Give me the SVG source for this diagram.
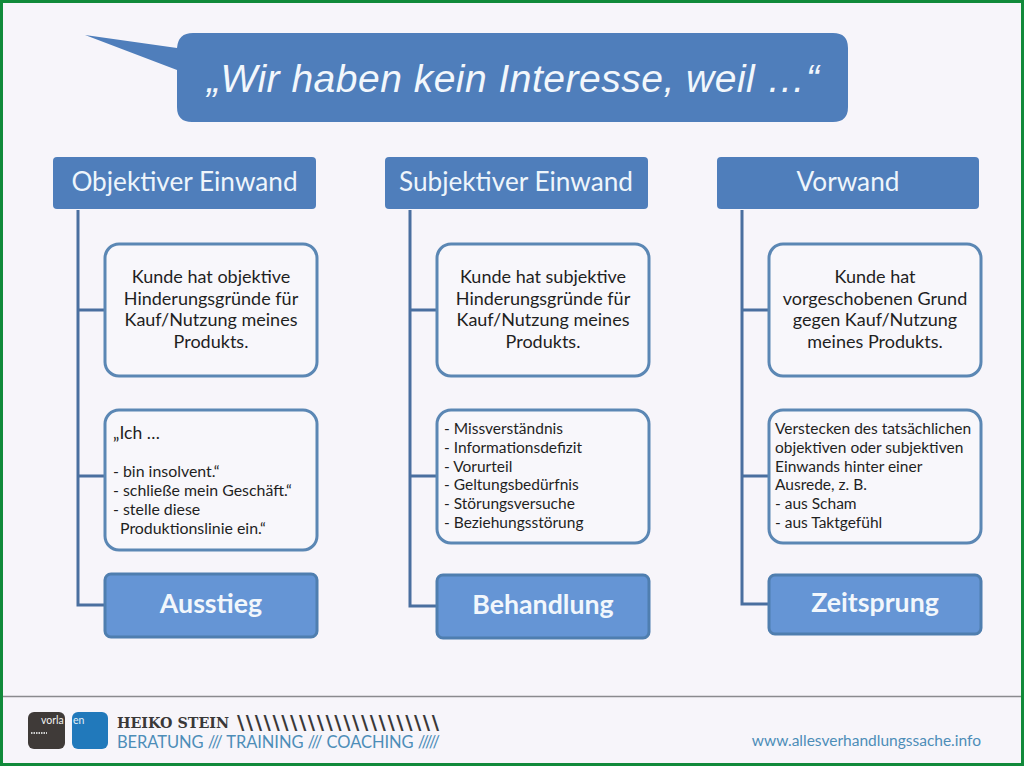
<svg xmlns="http://www.w3.org/2000/svg" width="1024" height="766" viewBox="0 0 1024 766">
<style>
text{font-family:Lato,"Open Sans","DejaVu Sans",sans-serif}
.hd rect{fill:#4f7ebb}
.hd text{fill:#eef5fb;font-size:26.200px;text-anchor:middle}
.bx rect{fill:#f8f7fb;stroke:#5b87b4;stroke-width:3}
.bx text{fill:#1f1f1f;font-size:18px;text-anchor:middle}
.ls rect{fill:#f8f7fb;stroke:#5b87b4;stroke-width:3}
.ls text{fill:#1f1f1f;font-size:15.500px}
.ac rect{fill:#6595d5;stroke:#4f7eaf;stroke-width:3}
.ac text{fill:#f2f7fc;font-size:26.700px;font-weight:700;text-anchor:middle}
#connectors path{fill:none;stroke:#4a6f9f;stroke-width:3}
</style>
<rect width="1024" height="766" fill="#f7f5fa"/>
<rect x="1.5" y="1.5" width="1021" height="763" fill="none" stroke="#118a3a" stroke-width="3"/>
<g id="connectors">
<path d="M78 210V605H104M78 310H104M78 476H104"/>
<path d="M410 210V606H436M410 310H436M410 476H436"/>
<path d="M742 210V604H768M742 310H768M742 476H768"/>
</g>
<g id="speech">
<path d="M85 35L177 48Q178 33 193 33H833Q848 33 848 48V107Q848 122 833 122H192Q177 122 177 107V70Z" fill="#4f7ebb"/>
<text x="513" y="92" font-size="39" font-style="italic" fill="#f2f7fc" text-anchor="middle" style="font-family:'Liberation Sans',Arial,sans-serif" textLength="612" lengthAdjust="spacing">„Wir haben kein Interesse, weil …“</text>
</g>
<g id="h1" class="hd"><rect x="53" y="157" width="263" height="52" rx="4"/><text x="184.500" y="191">Objektiver Einwand</text></g>
<g id="h2" class="hd"><rect x="385" y="157" width="263" height="52" rx="4"/><text x="516" y="191">Subjektiver Einwand</text></g>
<g id="h3" class="hd"><rect x="717" y="157" width="262" height="52" rx="4"/><text x="848" y="191">Vorwand</text></g>
<g id="b1" class="bx"><rect x="105" y="244" width="212" height="132" rx="14"/><text x="211" y="283">Kunde hat objektive</text><text x="211" y="305">Hinderungsgründe für</text><text x="211" y="326">Kauf/Nutzung meines</text><text x="211" y="348">Produkts.</text></g>
<g id="b2" class="bx"><rect x="437" y="244" width="212" height="132" rx="14"/><text x="543" y="283">Kunde hat subjektive</text><text x="543" y="305">Hinderungsgründe für</text><text x="543" y="326">Kauf/Nutzung meines</text><text x="543" y="348">Produkts.</text></g>
<g id="b3" class="bx"><rect x="769" y="244" width="212" height="132" rx="14"/><text x="875" y="283">Kunde hat</text><text x="875" y="305">vorgeschobenen Grund</text><text x="875" y="326">gegen Kauf/Nutzung</text><text x="875" y="348">meines Produkts.</text></g>
<g id="l1" class="ls"><rect x="105" y="410" width="212" height="140" rx="14"/><text x="113" y="439" style="font-size:17.500px">„Ich …</text><text x="113" y="477" style="font-size:15.900px">- bin insolvent.“</text><text x="113" y="496" style="font-size:15.900px">- schließe mein Geschäft.“</text><text x="113" y="515" style="font-size:15.900px">- stelle diese</text><text x="120" y="534" style="font-size:15.900px">Produktionslinie ein.“</text></g>
<g id="l2" class="ls"><rect x="437" y="410" width="212" height="133" rx="14"/><text x="444" y="434">- Missverständnis</text><text x="444" y="453">- Informationsdefizit</text><text x="444" y="472">- Vorurteil</text><text x="444" y="490">- Geltungsbedürfnis</text><text x="444" y="509">- Störungsversuche</text><text x="444" y="528">- Beziehungsstörung</text></g>
<g id="l3" class="ls"><rect x="769" y="410" width="212" height="133" rx="14"/><text x="775" y="434">Verstecken des tatsächlichen</text><text x="775" y="453">objektiven oder subjektiven</text><text x="775" y="472">Einwands hinter einer</text><text x="775" y="490">Ausrede, z. B.</text><text x="775" y="509">- aus Scham</text><text x="775" y="528">- aus Taktgefühl</text></g>
<g id="a1" class="ac"><rect x="105" y="574" width="212" height="63" rx="6"/><text x="211" y="613">Ausstieg</text></g>
<g id="a2" class="ac"><rect x="437" y="575" width="212" height="63" rx="6"/><text x="543" y="614">Behandlung</text></g>
<g id="a3" class="ac"><rect x="769" y="575" width="212" height="59" rx="6"/><text x="875" y="612">Zeitsprung</text></g>
<g id="footer">
<path d="M3 696.500H1021" stroke="#8a8a8e" stroke-width="1.500"/>
<rect x="28" y="712" width="37" height="37" rx="6" fill="#3f3a38"/>
<rect x="72" y="712" width="36" height="37" rx="6" fill="#2179bb"/>
<text x="41" y="724" font-size="10.500" fill="#f2f2f2">vorla</text>
<text x="73" y="724" font-size="10.500" fill="#e6f0f8">en</text>
<path d="M31 733H47" stroke="#cfcfcf" stroke-width="2" stroke-dasharray="1.500 1"/>
<text x="117" y="728" font-size="15" font-weight="700" fill="#3a3838" style="font-family:'DejaVu Serif',serif" textLength="112" lengthAdjust="spacingAndGlyphs">HEIKO STEIN</text>
<text x="237" y="729" font-size="20" font-weight="700" fill="#3a3838" style="font-family:'DejaVu Sans',sans-serif" textLength="202" lengthAdjust="spacing">\\\\\\\\\\\\\\\\\\\\\\\</text>
<text x="117" y="748" font-size="16.500" fill="#4d8db8" textLength="323" lengthAdjust="spacing">BERATUNG /// TRAINING /// COACHING /////</text>
<text x="981" y="746" font-size="15.500" fill="#4d8db8" text-anchor="end">www.allesverhandlungssache.info</text>
</g>
</svg>
